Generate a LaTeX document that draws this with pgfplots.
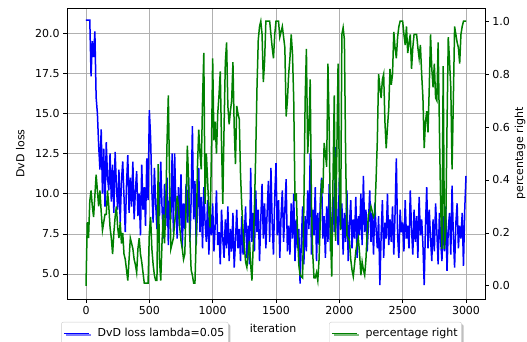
\documentclass[border=0pt]{standalone}
\usepackage{pgfplots}
\pgfplotsset{compat=1.18}
\usepackage{fontspec}
\setmainfont{DejaVu Sans}
\usetikzlibrary{shadows}
\definecolor{mgreen}{RGB}{0,128,0}
\begin{document}
\fontsize{11}{13}\selectfont
\begin{tikzpicture}
\useasboundingbox (-67pt,-42pt) rectangle (460pt,299pt);
\pgfplotsset{
  every axis/.append style={
    scale only axis, width=418pt, height=291pt,
    at={(0pt,0pt)}, anchor=south west,
    xmin=-150, xmax=3150,
    /pgf/number format/assume math mode=true,
    tick align=outside, major tick length=3.5pt,
    tick style={black, line width=0.6pt},
    axis line style={line width=0.7pt},
    ticklabel style={font=\fontsize{11}{13}\selectfont},
    label style={font=\fontsize{11}{13}\selectfont},
    legend style={font=\fontsize{11}{13}\selectfont, draw=black!20, rounded corners=2pt,
      inner xsep=2pt, inner ysep=4pt, fill=white,
      drop shadow={shadow xshift=2pt, shadow yshift=-2pt, opacity=0.5, fill=black!50}},
    legend cell align=left,
    legend image code/.code={\draw[#1, line width=1.3pt] (0pt,0pt) -- (25pt,0pt); \path (31pt,0pt);},
  }
}
\begin{axis}[
  ymin=3.44, ymax=21.56,
  xtick={0,500,...,3000},
  ytick={5,7.5,10,12.5,15,17.5,20},
  yticklabel style={/pgf/number format/.cd, fixed, fixed zerofill, precision=1},
  xticklabel style={/pgf/number format/.cd, fixed, set thousands separator={}},
  xtick pos=left, ytick pos=left,
  grid=major, grid style={color=black!31, line width=0.6pt},
  xlabel={iteration}, ylabel={DvD loss},
  xlabel style={at={(axis description cs:0.493,-0.1)}, anchor=center},
  ylabel style={at={(axis description cs:-0.112,0.5)}, anchor=center},
  legend style={at={(-0.014,-0.079)}, anchor=north west},
]
\addplot[blue, line width=1.5pt] coordinates {
(0,20.8)(10,20.8)(20,20.8)(30,20.8)(40,17.3)(50,19.5)(60,18.5)(70,20.1)(80,16.0)(90,15.0)
(100,13.0)(110,11.5)(120,14.0)(130,10.0)(140,12.8)(150,9.2)(160,13.2)(170,11.0)(180,10.2)(190,12.5)
(200,9.5)(210,11.8)(220,8.8)(230,12.6)(240,10.5)(250,9.0)(260,11.5)(270,8.2)(280,10.8)(290,12.0)
(300,9.8)(310,7.6)(320,10.6)(330,12.4)(340,8.8)(350,11.0)(360,9.2)(370,12.0)(380,8.4)(390,10.2)
(400,11.4)(410,8.6)(420,10.0)(430,7.4)(440,11.8)(450,9.0)(460,10.4)(470,8.0)(480,12.2)(490,9.6)
(500,15.2)(510,13.5)(520,10.2)(530,8.2)(540,11.6)(550,9.4)(560,7.8)(570,10.8)(580,8.6)(590,12.0)
(600,9.2)(610,7.2)(620,10.6)(630,8.0)(640,11.0)(650,6.8)(660,9.8)(670,8.4)(680,12.5)(690,7.6)
(700,12.5)(710,9.0)(720,7.2)(730,10.4)(740,8.0)(750,11.2)(760,6.6)(770,9.4)(780,7.8)(790,10.6)
(800,8.2)(810,11.0)(820,7.0)(830,9.6)(840,14.2)(850,8.4)(860,10.8)(870,6.8)(880,9.0)(890,11.6)
(900,7.6)(910,9.8)(920,6.6)(930,10.4)(940,8.2)(950,7.0)(960,9.6)(970,6.2)(980,8.8)(990,7.4)
(1000,9.4)(1010,6.4)(1020,8.0)(1030,10.2)(1040,6.8)(1050,7.6)(1060,5.6)(1070,9.0)(1080,7.2)(1090,6.0)
(1100,8.4)(1110,6.6)(1120,9.2)(1130,5.8)(1140,7.8)(1150,6.4)(1160,8.8)(1170,5.4)(1180,7.0)(1190,9.0)
(1200,6.6)(1210,7.8)(1220,5.8)(1230,8.6)(1240,6.2)(1250,7.4)(1260,9.2)(1270,6.0)(1280,8.0)(1290,5.6)
(1300,11.6)(1310,7.0)(1320,8.8)(1330,6.4)(1340,10.2)(1350,7.6)(1360,9.0)(1370,5.8)(1380,8.4)(1390,10.6)
(1400,7.2)(1410,9.4)(1420,6.6)(1430,8.8)(1440,10.8)(1450,7.0)(1460,11.6)(1470,8.2)(1480,6.2)(1490,9.8)
(1500,11.9)(1510,7.4)(1520,9.6)(1530,6.0)(1540,8.6)(1550,10.2)(1560,7.0)(1570,9.0)(1580,10.9)(1590,6.4)
(1600,8.0)(1610,6.2)(1620,9.4)(1630,7.2)(1640,10.0)(1650,5.8)(1660,8.4)(1670,6.6)(1680,7.8)(1690,4.4)
(1700,7.0)(1710,9.2)(1720,5.6)(1730,8.6)(1740,6.4)(1750,10.2)(1760,7.8)(1770,12.5)(1780,6.2)(1790,9.0)
(1800,7.4)(1810,10.4)(1820,5.8)(1830,8.8)(1840,6.8)(1850,9.6)(1860,11.0)(1870,7.2)(1880,8.6)(1890,6.0)
(1900,9.2)(1910,7.0)(1920,10.6)(1930,6.4)(1940,8.2)(1950,9.8)(1960,7.6)(1970,12.9)(1980,8.4)(1990,6.8)
(2000,11.0)(2010,7.8)(2020,9.4)(2030,6.2)(2040,8.8)(2050,7.0)(2060,10.2)(2070,5.8)(2080,8.0)(2090,9.6)
(2100,6.6)(2110,8.4)(2120,7.2)(2130,9.8)(2140,6.0)(2150,8.6)(2160,7.4)(2170,10.0)(2180,6.8)(2190,11.1)
(2200,7.6)(2210,9.0)(2220,6.4)(2230,8.2)(2240,10.2)(2250,7.0)(2260,8.8)(2270,6.2)(2280,9.4)(2290,7.8)
(2300,6.6)(2310,8.6)(2320,4.3)(2330,7.4)(2340,9.6)(2350,6.0)(2360,8.2)(2370,7.2)(2380,10.0)(2390,6.8)
(2400,8.4)(2410,7.0)(2420,9.2)(2430,6.2)(2440,8.8)(2450,12.2)(2460,7.4)(2470,6.0)(2480,9.0)(2490,7.6)
(2500,8.2)(2510,6.4)(2520,9.6)(2530,7.2)(2540,8.0)(2550,6.6)(2560,10.2)(2570,7.8)(2580,6.2)(2590,9.0)
(2600,7.0)(2610,8.6)(2620,6.0)(2630,9.8)(2640,7.4)(2650,8.4)(2660,6.8)(2670,4.3)(2680,8.0)(2690,10.4)
(2700,6.6)(2710,9.0)(2720,7.2)(2730,5.8)(2740,8.4)(2750,6.4)(2760,9.4)(2770,7.6)(2780,5.6)(2790,8.8)
(2800,7.0)(2810,5.8)(2820,8.6)(2830,6.4)(2840,9.2)(2850,5.2)(2860,7.8)(2870,8.8)(2880,6.2)(2890,10.5)
(2900,7.4)(2910,5.4)(2920,8.2)(2930,9.4)(2940,6.6)(2950,8.0)(2960,7.2)(2970,8.8)(2980,5.5)(2990,9.0)
(3000,11.1)
};
\addlegendentry{DvD loss lambda=0.05}
\end{axis}
\begin{axis}[
  ymin=-0.05, ymax=1.05,
  axis x line=none,
  axis y line*=right,
  ytick={0,0.2,0.4,0.6,0.8,1.0},
  yticklabel style={/pgf/number format/.cd, fixed, fixed zerofill, precision=1},
  ylabel={percentage right},
  ylabel style={at={(axis description cs:1.084,0.5)}, anchor=center},
  legend style={at={(0.627,-0.079)}, anchor=north west},
]
\addplot[mgreen, line width=1.5pt] coordinates {
(0,0.0)(10,0.24)(20,0.18)(30,0.32)(40,0.36)(50,0.30)(60,0.26)(70,0.34)(80,0.42)(90,0.36)
(100,0.30)(110,0.36)(120,0.28)(130,0.21)(140,0.24)(150,0.27)(160,0.27)(170,0.36)(180,0.30)(190,0.22)
(200,0.18)(210,0.12)(220,0.20)(230,0.26)(240,0.30)(250,0.22)(260,0.18)(270,0.24)(280,0.16)(290,0.20)
(300,0.12)(310,0.10)(320,0.06)(330,0.02)(340,0.10)(350,0.18)(360,0.16)(370,0.14)(380,0.10)(390,0.08)
(400,0.05)(410,0.14)(420,0.18)(430,0.12)(440,0.09)(450,0.05)(460,0.01)(470,0.01)(480,0.01)(490,0.01)
(500,0.20)(510,0.26)(520,0.14)(530,0.08)(540,0.04)(550,0.02)(560,0.02)(570,0.46)(580,0.10)(590,0.02)
(600,0.16)(610,0.27)(620,0.16)(630,0.30)(640,0.55)(650,0.72)(660,0.40)(670,0.14)(680,0.16)(690,0.18)
(700,0.24)(710,0.28)(720,0.34)(730,0.30)(740,0.22)(750,0.17)(760,0.14)(770,0.10)(780,0.12)(790,0.30)
(800,0.53)(810,0.40)(820,0.18)(830,0.06)(840,0.04)(850,0.01)(860,0.01)(870,0.18)(880,0.45)(890,0.59)
(900,0.50)(910,0.44)(920,0.70)(930,0.88)(940,0.31)(950,0.50)(960,0.40)(970,0.28)(980,0.22)(990,0.50)
(1000,0.86)(1010,0.55)(1020,0.62)(1030,0.50)(1040,0.65)(1050,0.72)(1060,0.81)(1070,0.54)(1080,0.31)(1090,0.60)
(1100,0.845)(1110,0.92)(1120,0.68)(1130,0.61)(1140,0.66)(1150,0.70)(1160,0.845)(1170,0.60)(1180,0.46)(1190,0.68)
(1200,0.65)(1210,0.63)(1220,0.42)(1230,0.30)(1240,0.21)(1250,0.15)(1260,0.09)(1270,0.07)(1280,0.12)(1290,0.17)
(1300,0.08)(1310,0.02)(1320,0.15)(1330,0.30)(1340,0.50)(1350,0.75)(1360,0.93)(1370,0.98)(1380,1.0)(1390,0.95)
(1400,0.77)(1410,0.85)(1420,1.0)(1430,1.0)(1440,1.0)(1450,1.0)(1460,0.95)(1470,0.90)(1480,0.86)(1490,0.95)
(1500,1.0)(1510,1.0)(1520,1.0)(1530,0.94)(1540,0.96)(1550,0.98)(1560,0.94)(1570,0.90)(1580,0.64)(1590,0.70)
(1600,0.80)(1610,0.86)(1620,0.95)(1630,0.88)(1640,0.70)(1650,0.32)(1660,0.35)(1670,0.20)(1680,0.08)(1690,0.04)
(1700,0.035)(1710,0.03)(1720,0.30)(1730,0.70)(1740,0.895)(1750,0.50)(1760,0.60)(1770,0.78)(1780,0.30)(1790,0.12)
(1800,0.03)(1810,0.03)(1820,0.05)(1830,0.02)(1840,0.10)(1850,0.25)(1860,0.40)(1870,0.35)(1880,0.54)(1890,0.50)
(1900,0.45)(1910,0.84)(1920,0.60)(1930,0.20)(1940,0.035)(1950,0.40)(1960,0.72)(1970,0.17)(1980,0.50)(1990,0.84)
(2000,0.40)(2010,0.21)(2020,0.95)(2030,0.976)(2040,0.93)(2050,0.48)(2060,0.19)(2070,0.18)(2080,0.17)(2090,0.10)
(2100,0.06)(2110,0.035)(2120,0.08)(2130,0.13)(2140,0.16)(2150,0.18)(2160,0.12)(2170,0.04)(2180,0.09)(2190,0.06)
(2200,0.04)(2210,0.10)(2220,0.20)(2230,0.27)(2240,0.28)(2250,0.30)(2260,0.28)(2270,0.26)(2280,0.27)(2290,0.40)
(2300,0.55)(2310,0.80)(2320,0.75)(2330,0.71)(2340,0.78)(2350,0.80)(2360,0.62)(2370,0.52)(2380,0.60)(2390,0.67)
(2400,0.82)(2410,0.76)(2420,0.80)(2430,0.96)(2440,0.90)(2450,0.86)(2460,0.94)(2470,0.98)(2480,1.0)(2490,1.0)
(2500,1.0)(2510,0.95)(2520,0.91)(2530,0.98)(2540,0.88)(2550,0.92)(2560,0.95)(2570,0.82)(2580,0.90)(2590,0.95)
(2600,0.95)(2610,0.95)(2620,0.90)(2630,0.86)(2640,0.91)(2650,0.80)(2660,0.71)(2670,0.52)(2680,0.62)(2690,0.66)
(2700,0.58)(2710,0.75)(2720,0.95)(2730,0.82)(2740,0.75)(2750,0.84)(2760,0.71)(2770,0.70)(2780,0.92)(2790,0.60)
(2800,0.30)(2810,0.14)(2820,0.83)(2830,0.14)(2840,0.21)(2850,0.60)(2860,0.94)(2870,0.85)(2880,0.75)(2890,0.44)
(2900,0.70)(2910,0.98)(2920,0.95)(2930,0.92)(2940,0.90)(2950,0.84)(2960,0.95)(2970,0.98)(2980,1.0)(2990,1.0)
(3000,1.0)
};
\addlegendentry{percentage right}
\end{axis}
\end{tikzpicture}
\end{document}
